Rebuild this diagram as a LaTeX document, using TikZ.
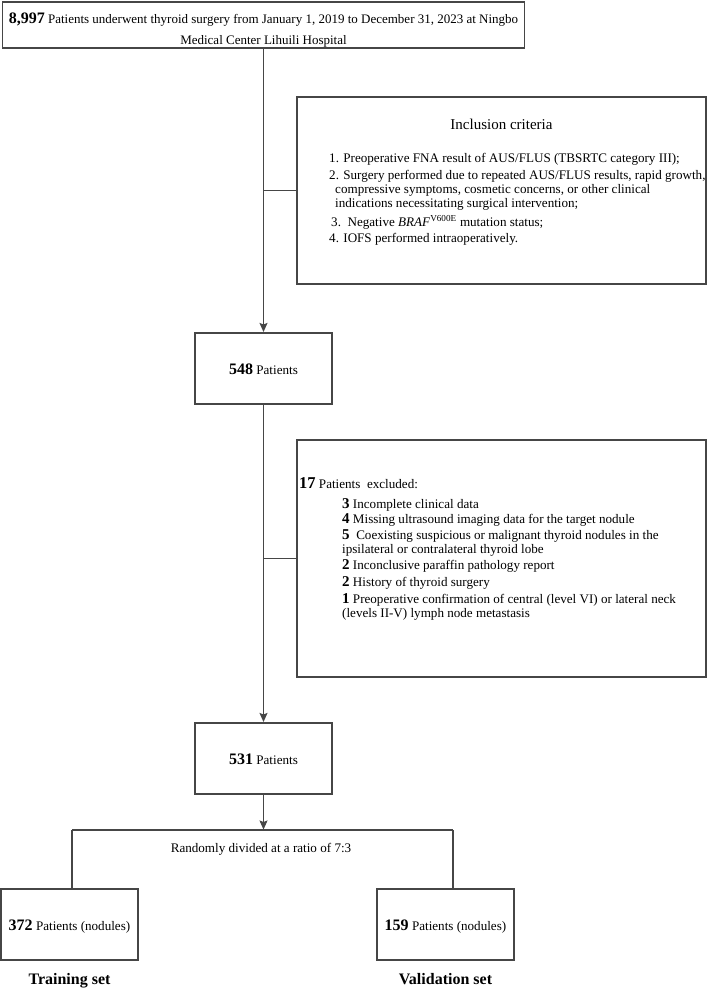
\documentclass[tikz,border=0pt]{standalone}
\usepackage{fontspec}
\setmainfont{Liberation Serif}
\usetikzlibrary{arrows.meta}
\definecolor{linec}{RGB}{70,70,70}
\begin{document}
\begin{tikzpicture}[x=1pt,y=-1pt,
  box/.style={draw=linec, line width=1.1pt, inner sep=0pt},
  conn/.style={draw=linec, line width=1.1pt},
  arr/.style={conn, -{Stealth[length=9pt,width=8pt,inset=1.5pt]}, shorten >=0.5pt},
  txt/.style={font=\fontsize{13.1}{14}\selectfont, inner sep=0pt, anchor=base west},
  ctxt/.style={font=\fontsize{13.1}{14}\selectfont, inner sep=0pt, anchor=base},
  title/.style={font=\fontsize{15}{15}\selectfont, inner sep=0pt, anchor=base},
  lab/.style={font=\fontsize{16}{16}\selectfont\bfseries, inner sep=0pt, anchor=base},
]
\newcommand{\bnum}[1]{{\fontsize{16}{16}\selectfont\bfseries #1}}
\newcommand{\bbig}[1]{{\fontsize{16.5}{16.5}\selectfont\bfseries #1}}
\newcommand{\bsm}[1]{{\fontsize{15}{15}\selectfont\bfseries #1}}
\useasboundingbox (0,0) rectangle (708,989);
\fill[white] (0,0) rectangle (708,989);

% boxes
\node[box, minimum width=522pt, minimum height=46pt] (top) at (263.5,25) {};
\node[box, minimum width=409pt, minimum height=187pt] (incl) at (501.5,190.5) {};
\node[box, minimum width=137pt, minimum height=71pt] (n548) at (263.5,368.5) {};
\node[box, minimum width=409pt, minimum height=237pt] (excl) at (501.5,558.5) {};
\node[box, minimum width=137pt, minimum height=71pt] (n531) at (263.5,758.5) {};
\node[box, minimum width=137pt, minimum height=71pt] (n372) at (69.5,924.5) {};
\node[box, minimum width=137pt, minimum height=71pt] (n159) at (445.5,924.5) {};

% top text
\node[ctxt, font=\fontsize{13}{14}\selectfont] (t1) at (263.5,23.5) {\bnum{8,997} Patients underwent thyroid surgery from January 1, 2019 to December 31, 2023 at Ningbo};
\node[ctxt, font=\fontsize{13}{14}\selectfont] (t2) at (263.5,44.5) {Medical Center Lihuili Hospital};

% inclusion text
\node[title] (inct) at (501.5,129) {Inclusion criteria};
\node[txt] (i1) at (329,162) {1. Preoperative FNA result of AUS/FLUS (TBSRTC category III);};
\node[txt] (i2a) at (329,179) {2. Surgery performed due to repeated AUS/FLUS results, rapid growth,};
\node[txt] (i2b) at (335,193) {compressive symptoms, cosmetic concerns, or other clinical};
\node[txt] (i2c) at (335,207) {indications necessitating surgical intervention;};
\node[txt] (i3) at (331,226) {3.\ \ Negative \textit{BRAF}\textsuperscript{V600E} mutation status;};
\node[txt] (i4) at (329,242) {4. IOFS performed intraoperatively.};

% box texts
\node[ctxt] (l548) at (263.5,374) {\bnum{548} Patients};
\node[ctxt] (l531) at (263.5,764) {\bnum{531} Patients};
\node[ctxt] (l372) at (69.5,930) {\bnum{372} Patients (nodules)};
\node[ctxt] (l159) at (445.5,930) {\bnum{159} Patients (nodules)};

% exclusion text
\node[txt] (e0) at (299,488) {\bbig{17} Patients\ \ excluded:};
\node[txt] (e1) at (342,508) {\bsm{3} Incomplete clinical data};
\node[txt] (e2) at (342,523) {\bsm{4} Missing ultrasound imaging data for the target nodule};
\node[txt] (e3a) at (342,539) {\bsm{5}\ \ Coexisting suspicious or malignant thyroid nodules in the};
\node[txt] (e3b) at (342,553) {ipsilateral or contralateral thyroid lobe};
\node[txt] (e4) at (342,569) {\bsm{2} Inconclusive paraffin pathology report};
\node[txt] (e5) at (342,586) {\bsm{2} History of thyroid surgery};
\node[txt] (e6a) at (342,603) {\bsm{1} Preoperative confirmation of central (level VI) or lateral neck};
\node[txt] (e6b) at (342,617) {(levels II-V) lymph node metastasis};

% split
\coordinate (split) at (263.5,830);
\coordinate (sl) at (72,830);
\coordinate (sr) at (453,830);
\node[ctxt] (rand) at (261,852) {Randomly divided at a ratio of 7:3};

% labels
\node[lab] (ltr) at (69.5,984) {Training set};
\node[lab] (lva) at (445.5,984) {Validation set};

% connectors
\draw[arr] (top.south) -- (n548.north);
\draw[conn] (top.south |- incl.west) -- (incl.west);
\draw[arr] (n548.south) -- (n531.north);
\draw[conn] (n548.south |- excl.west) -- (excl.west);
\draw[arr] (n531.south) -- (split);
\draw[conn] (sl) -- (sr);
\draw[conn] (sl) -- (sl |- n372.north);
\draw[conn] (sr) -- (sr |- n159.north);
\end{tikzpicture}
\end{document}
